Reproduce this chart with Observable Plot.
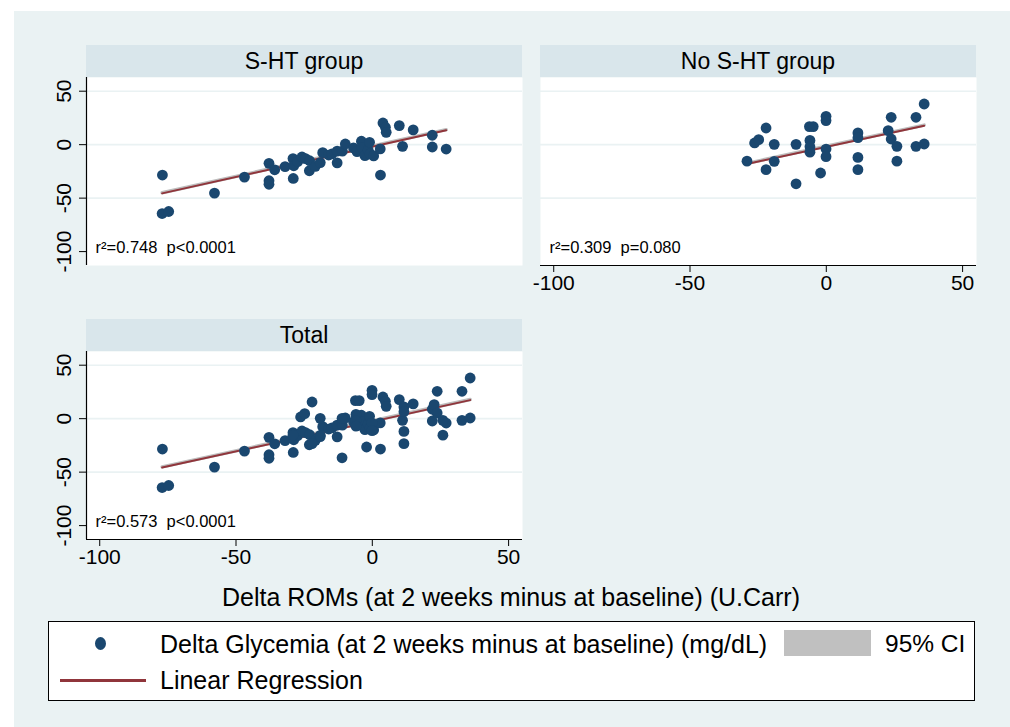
<!DOCTYPE html>
<html><head><meta charset="utf-8">
<script src="https://cdn.jsdelivr.net/npm/d3@7"></script>
<script src="https://cdn.jsdelivr.net/npm/@observablehq/plot@0.6"></script>
<style>
body{margin:0;background:#fff;font-family:"Liberation Sans",Arial,Helvetica,sans-serif;}
#root{position:relative;width:1010px;height:727px;overflow:hidden;}
.abs{position:absolute;}
.bg{left:14px;top:11px;right:0;bottom:0;background:#EAF2F3;}
.strip{width:436px;height:32px;background:#D9E6EB;color:#000;font-size:23px;text-align:center;line-height:32px;}
.txt{white-space:nowrap;color:#000;}
</style>
</head><body>
<div id="root"><div class="abs bg"></div></div>
<script>
// ---- data ----
const panelTitles = ["S-HT group", "No S-HT group", "Total"];
const statLabels = ["r\u00b2=0.748\u00a0 p<0.0001", "r\u00b2=0.309\u00a0 p=0.080", "r\u00b2=0.573\u00a0 p<0.0001"];
const xTicks = [-100, -50, 0, 50];
const yTicks = [50, 0, -50, -100];
const yGrid = [50, 0, -50];
const xDomain = [-104.85, 55.1];
const yDomain = [-113, 62.8];

// fitted regression lines as drawn in the picture (intercept, slope) per panel
const fitIntercepts = [-1.9, -2.0, -2.7];
const fitSlopes = [0.566, 0.55, 0.558];

// S-HT group: Delta ROMs (x) and Delta Glycemia (y)
const shtX = [-77.0, -77.1, -74.7, -57.9, -46.9, -37.9, -37.9, -37.9, -35.8, -32.0,
  -29.1, -28.8, -29.0, -27.4, -25.8, -24.5, -23.0, -23.1, -20.9, -19.1,
  -18.2, -16.0, -14.8, -12.9, -12.9, -11.0, -9.9, -6.9, -5.6, -4.0,
  -3.8, -2.7, -1.5, -1.0, -0.8, 0.5, 2.9, 3.0, 3.9, 4.8,
  5.1, 9.9, 11.1, 15.0, 22.0, 22.0, 27.1];
const shtY = [-28.4, -64.4, -62.5, -45.3, -30.3, -17.5, -33.7, -37.0, -23.5, -20.5,
  -13.0, -19.7, -31.6, -15.9, -11.5, -13.0, -15.0, -24.4, -20.3, -16.8,
  -7.5, -9.7, -8.7, -6.0, -17.0, -6.0, 0.6, -3.0, -6.5, 3.2,
  -2.5, -10.3, -5.0, 2.2, -8.7, -10.5, -4.0, -28.4, 20.3, 16.2,
  11.5, 17.8, -1.6, 13.8, 8.8, -2.2, -4.1];

// No S-HT group
const noX = [-29.1, -26.3, -24.8, -22.1, -22.1, -19.1, -19.1, -11.1, -11.1, -6.2,
  -4.8, -6.0, -6.0, -6.0, -2.1, -0.1, -0.1, -0.1, -0.1, 11.6,
  11.6, 11.6, 11.6, 23.8, 22.7, 23.8, 25.9, 25.9, 32.9, 32.9,
  35.9, 35.9];
const noY = [-15.4, 1.6, 4.7, 15.6, -23.4, 0.3, -15.6, 0.3, -36.6, 16.9,
  16.9, 4.0, -2.0, -7.0, -26.5, 26.5, 22.5, -4.1, -11.2, 11.0,
  6.5, -11.9, -23.4, 25.6, 13.1, 5.3, -1.6, -15.4, 25.6, -1.6,
  38.0, 0.6];

const sht = shtX.map((x, i) => ({x, y: shtY[i]}));
const noSht = noX.map((x, i) => ({x, y: noY[i]}));
const total = sht.concat(noSht);

const root = document.getElementById("root");
const font = '"Liberation Sans", Arial, Helvetica, sans-serif';
const fmt = d => String(d);

function fitLine(data, k) {
  const [x0, x1] = d3.extent(data, d => d.x);
  return [x0, x1].map(x => ({x, y: fitIntercepts[k] + fitSlopes[k] * x}));
}

function makePanel(data, k, showX, showY) {
  const fit = fitLine(data, k);
  const marks = [
    Plot.frame({fill: "white", stroke: "none"}),
    Plot.gridY(yGrid, {stroke: "#EAF2F3", strokeOpacity: 1, strokeWidth: 1.6}),
    Plot.line(fit, {x: "x", y: "y", stroke: "#BDBDBD", strokeWidth: 3.4, dy: -0.6}),
    Plot.line(fit, {x: "x", y: "y", stroke: "#90353B", strokeWidth: 2}),
    Plot.dot(data, {x: "x", y: "y", r: 5.4, fill: "#1A476F", stroke: "none"}),
    Plot.text([statLabels[k]], {frameAnchor: "bottom-left", dx: 9, dy: -18, textAnchor: "start", lineAnchor: "middle", fontSize: 16.5, fill: "black"})
  ];
  if (showY) {
    marks.push(Plot.ruleX([xDomain[0]], {stroke: "black", strokeWidth: 1.2}));
    marks.push(Plot.axisY(yTicks, {tickRotate: -90, tickSize: 7, tickPadding: 9, fontSize: 21, tickFormat: fmt, label: null, stroke: "black", fill: "black"}));
  }
  if (showX) {
    marks.push(Plot.ruleY([yDomain[0]], {stroke: "black", strokeWidth: 1.2}));
    marks.push(Plot.axisX(xTicks, {tickSize: 7, tickPadding: 3, fontSize: 21, tickFormat: fmt, label: null, stroke: "black", fill: "black"}));
  }
  return Plot.plot({
    width: 500, height: 230,
    marginLeft: 60, marginRight: 4, marginTop: 2, marginBottom: 40,
    x: {domain: xDomain, axis: null},
    y: {domain: yDomain, axis: null},
    style: {background: "transparent", fontFamily: font, color: "black", overflow: "visible"},
    marks
  });
}

function place(el, left, top) {
  el.style.position = "absolute";
  el.style.left = left + "px";
  el.style.top = top + "px";
  root.appendChild(el);
  return el;
}
function div(cls, text, css) {
  const d = document.createElement("div");
  d.className = "abs " + cls;
  if (text != null) d.textContent = text;
  Object.assign(d.style, css);
  root.appendChild(d);
  return d;
}

// strips
div("strip", panelTitles[0], {left: "86px", top: "45px"});
div("strip", panelTitles[1], {left: "540px", top: "45px"});
div("strip", panelTitles[2], {left: "86px", top: "319px"});

// panels
place(makePanel(sht, 0, false, true), 26, 75);
place(makePanel(noSht, 1, true, false), 480, 75);
place(makePanel(total, 2, true, true), 26, 349);

// x axis title
div("txt", "Delta ROMs (at 2 weeks minus at baseline) (U.Carr)",
  {left: "16px", width: "990px", top: "582px", textAlign: "center", fontSize: "25px", lineHeight: "30px"});

// legend
div("", null, {left: "48px", top: "621px", width: "925px", height: "78px", background: "white", border: "1px solid #000"});
div("", null, {left: "95px", top: "637px", width: "11px", height: "13px", borderRadius: "50%", background: "#1A476F"});
div("txt", "Delta Glycemia (at 2 weeks minus at baseline) (mg/dL)", {left: "160px", top: "629px", fontSize: "25px", lineHeight: "30px"});
div("", null, {left: "784px", top: "630px", width: "87px", height: "26px", background: "#C0C0C0"});
div("txt", "95% CI", {left: "885px", top: "629px", fontSize: "24.5px", lineHeight: "30px"});
div("", null, {left: "60px", top: "679px", width: "86px", height: "2.5px", background: "#90353B"});
div("txt", "Linear Regression", {left: "160px", top: "665px", fontSize: "25px", lineHeight: "30px"});
</script>
</body></html>
